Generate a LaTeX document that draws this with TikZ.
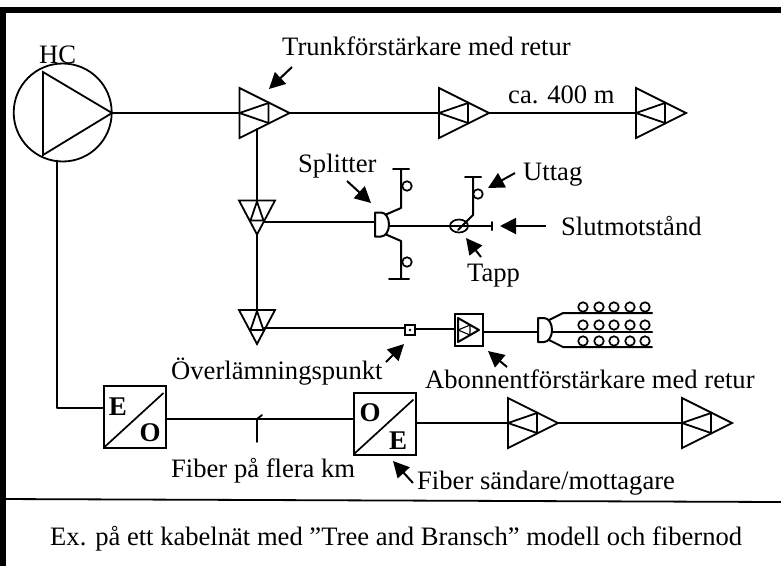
\documentclass[tikz,border=0pt]{standalone}
\usepackage{fontspec}
\setmainfont{Liberation Serif}
\usetikzlibrary{arrows.meta,shapes.geometric}
\tikzset{
  x=1pt,y=-1pt,
  wire/.style={line width=2pt,line cap=round,line join=round},
  thin wire/.style={line width=1.8pt,line cap=round,line join=miter},
  callout/.style={line width=2pt,-{Triangle[length=16pt,width=16pt]}},
  label text/.style={inner sep=0pt,anchor=base west,font=\fontsize{26.6}{30}\selectfont},
  letter/.style={inner sep=0pt,font=\fontsize{27}{30}\selectfont\bfseries},
  conv/.style={draw,line width=2pt,minimum size=62pt,inner sep=0pt},
  port/.style={draw,circle,line width=1.7pt,minimum size=9.5pt,inner sep=0pt,fill=white},
  ampr/.pic={
    \draw[thin wire] (0,-25) -- (0,25) -- (50,0) -- cycle;
    \draw[thin wire] (29,-10) -- (29,10) -- (0,0) -- cycle;
    \coordinate (-in) at (0,0);
    \coordinate (-out) at (50,0);
    \coordinate (-down) at (18,16);
  },
  ampd/.pic={
    \draw[thin wire] (-18,0) -- (18,0) -- (0,34) -- cycle;
    \draw[thin wire] (-6.5,20) -- (6.5,20) -- (0,1) -- cycle;
    \coordinate (-in) at (0,0);
    \coordinate (-side) at (7,20);
  },
  splitshape/.pic={
    \draw[wire] (0,-12) -- (6,-12) .. controls (11,-12) and (14,-6) .. (14,0)
      .. controls (14,6) and (11,12) .. (6,12) -- (0,12) -- cycle;
    \coordinate (-in) at (0,0);
    \coordinate (-out) at (14,0);
    \coordinate (-up) at (11,-10);
    \coordinate (-low) at (11,10);
  },
}
\begin{document}
\begin{tikzpicture}
\useasboundingbox (0,0) rectangle (781,566);
% frame
\fill[black] (0,7) rectangle (781,13);
\fill[black] (0,7) rectangle (6,566);
\coordinate (ruleL) at (0,499);
\coordinate (ruleR) at (781,502);
\draw[line width=1.8pt] (ruleL) -- (ruleR);

% head end
\node[draw,circle,line width=1.8pt,minimum size=98pt,inner sep=0pt] (hc) at (62.7,112.5) {};
\coordinate (hcA) at (43,72);
\coordinate (hcB) at (43,155);
\coordinate (hcC) at (112,113);
\draw[thin wire] (hcA) -- (hcB) -- (hcC) -- cycle;

% trunk
\pic (a1) at (239.5,113) {ampr};
\pic (a2) at (439,113) {ampr};
\pic (a3) at (636,113) {ampr};
\draw[wire] (hcC) -- (a1-in);
\draw[wire] (a1-out) -- (a2-in);
\draw[wire] (a2-out) -- (a3-in);

% vertical branch
\pic (b1) at (257,200.5) {ampd};
\pic (b2) at (257,310) {ampd};
\coordinate (a1drop) at (257,129);
\coordinate (b1tip) at (257,234.5);
\draw[wire] (a1drop) -- (b1-in);
\draw[wire] (b1tip) -- (b2-in);

% splitter group 1
\pic (s1) at (375,224.5) {splitshape};
\coordinate (b1line) at (375,222);
\draw[wire] (b1-side |- b1line) -- (b1line);
\coordinate (s1out) at (389,226);
\coordinate (endc) at (492,226);
\draw[wire] (s1out) -- (endc);
\draw[wire] ([yshift=4pt]endc) -- ([yshift=-4pt]endc);
\node[draw,ellipse,line width=1.7pt,minimum width=18pt,minimum height=13pt,inner sep=0pt] (tap) at (459,226) {};
\coordinate (tapA) at (458,230);
\coordinate (tapB) at (473,215);
\coordinate (tapC) at (473,177);
\coordinate (tapL) at (465,177);
\coordinate (tapR) at (481,177);
\draw[wire] (tapA) -- (tapB) -- (tapC);
\draw[wire] (tapL) -- (tapR);
\node[port] (o3) at (478,194) {};
\coordinate (upB) at (401,208);
\coordinate (upC) at (401,169);
\coordinate (upL) at (393,169);
\coordinate (upR) at (409,169);
\draw[wire] (s1-up) -- (upB) -- (upC);
\draw[wire] (upL) -- (upR);
\node[port] (o1) at (407,186) {};
\coordinate (loB) at (401,241);
\coordinate (loC) at (401,279);
\coordinate (loL) at (389,279);
\coordinate (loR) at (409,279);
\draw[wire] (s1-low) -- (loB) -- (loC);
\draw[wire] (loL) -- (loR);
\node[port] (o2) at (407,262) {};

% subscriber branch
\node[draw,line width=1.8pt,minimum size=10pt,inner sep=0pt] (hand) at (410,330) {};
\fill (hand.center) circle (1.3);
\draw[wire] (b2-side |- 0,328) -- (hand.west |- 0,328);
\node[draw,line width=2.2pt,minimum width=28pt,minimum height=32pt,inner sep=0pt] (sub) at (469,330) {};
\draw[wire] (hand.east |- 0,329) -- (sub.west |- 0,329);
\coordinate (tA) at (458,318);
\coordinate (tB) at (458,342);
\coordinate (tC) at (479,330);
\draw[wire] (tA) -- (tB) -- (tC) -- cycle;
\draw[line width=1.1pt] (470,325) -- (470,335) -- (458,330) -- cycle;
\pic (s2) at (538,330) {splitshape};
\draw[wire] (sub.east |- 0,332) -- (s2-in |- 0,332);
\coordinate (r1a) at (563,313);
\coordinate (r1b) at (652,313);
\coordinate (r2a) at (552,332);
\coordinate (r2b) at (652,332);
\coordinate (r3a) at (563,347);
\coordinate (r3b) at (652,347);
\draw[wire] (s2-up) -- (r1a) -- (r1b);
\draw[wire] (r2a) -- (r2b);
\draw[wire] (s2-low) -- (r3a) -- (r3b);
\foreach \yy/\rr in {307/a,325/b,341/c}
  \foreach \xx/\cc in {583/1,599/2,614/3,630/4,645/5}
    \node[port] (t\rr\cc) at (\xx,\yy) {};

% fibre
\node[conv] (eo) at (134.5,417) {};
\draw[line width=1.7pt] (eo.south west) ++(2,-2) -- ++(59,-54);
\node[letter] (eoE) at (118,407) {E};
\node[letter] (eoO) at (150,433) {O};
\coordinate (hcDrop) at (57,160.5);
\coordinate (hcCorner) at (57,408);
\draw[wire] (hcDrop) -- (hcCorner) -- (eo.west |- hcCorner);
\node[conv] (oe) at (384.5,423.5) {};
\draw[line width=1.7pt] (oe.south west) ++(2,-2) -- ++(59,-54);
\node[letter] (oeO) at (370,413) {O};
\node[letter] (oeE) at (398,441) {E};
\draw[wire] (eo.east |- 0,419) -- (oe.west |- 0,419);
\coordinate (tickA) at (257,442);
\coordinate (tickB) at (257,419);
\coordinate (tickC) at (262,415);
\draw[thin wire] (tickA) -- (tickB) -- (tickC);
\pic (f1) at (508,423) {ampr};
\pic (f2) at (682,423) {ampr};
\draw[wire] (oe.east |- f1-in) -- (f1-in);
\draw[wire] (f1-out) -- (f2-in);

% callouts
\coordinate (c1a) at (292,67);   \coordinate (c1b) at (269,89);
\coordinate (c2a) at (347,181);  \coordinate (c2b) at (371,203);
\coordinate (c3a) at (515,173);  \coordinate (c3b) at (488,188);
\coordinate (c4a) at (546,226);  \coordinate (c4b) at (500,226);
\coordinate (c5a) at (481,257);  \coordinate (c5b) at (466,238);
\coordinate (c6a) at (386,362);  \coordinate (c6b) at (404,344);
\coordinate (c7a) at (507,367);  \coordinate (c7b) at (488,351);
\coordinate (c8a) at (413,483);  \coordinate (c8b) at (393,461);
\foreach \i in {1,...,8} \draw[callout] (c\i a) -- (c\i b);

% texts
\node[label text] (tHC) at (39,63) {HC};
\node[label text] (tTr) at (282,55) {Trunkförstärkare med retur};
\node[label text] (tCa) at (508,103) {ca. 400 m};
\node[label text] (tSp) at (298,172) {Splitter};
\node[label text] (tUt) at (523,180) {Uttag};
\node[label text] (tSl) at (561,235) {Slutmotstånd};
\node[label text] (tTa) at (467,281) {Tapp};
\node[label text] (tOv) at (171,379) {Överlämningspunkt};
\node[label text] (tAb) at (425,388) {Abonnentförstärkare med retur};
\node[label text] (tFi) at (171,477) {Fiber på flera km};
\node[label text] (tFs) at (417,489) {Fiber sändare/mottagare};
\node[label text] (tEx) at (50,545) {Ex. på ett kabelnät med ”Tree and Bransch” modell och fibernod};
\end{tikzpicture}
\end{document}
